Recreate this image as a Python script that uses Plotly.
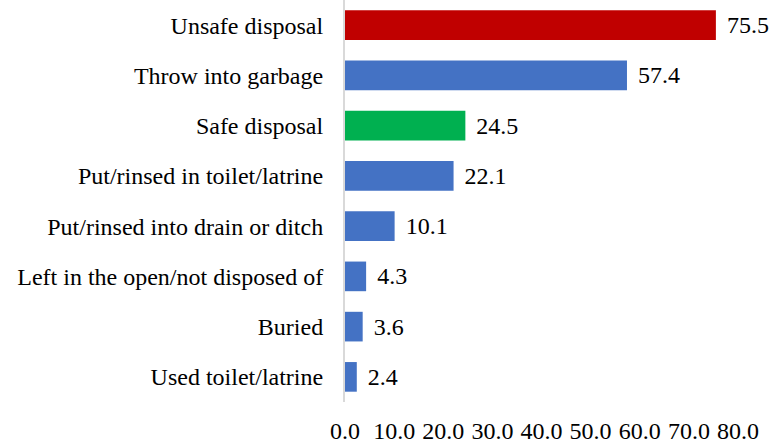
import plotly.graph_objects as go

categories = ["Unsafe disposal", "Throw into garbage", "Safe disposal",
              "Put/rinsed in toilet/latrine", "Put/rinsed into drain or ditch",
              "Left in the open/not disposed of", "Buried", "Used toilet/latrine"]
values = [75.5, 57.4, 24.5, 22.1, 10.1, 4.3, 3.6, 2.4]
colors = ["#C00000", "#4472C4", "#00B050", "#4472C4", "#4472C4", "#4472C4", "#4472C4", "#4472C4"]
x_ticks = [0, 10, 20, 30, 40, 50, 60, 70, 80]

font_family = "Liberation Serif"

fig = go.Figure(go.Bar(
    x=values, y=categories, orientation="h",
    marker=dict(color=colors, line=dict(width=0)),
    text=values, texttemplate=" \u200a%{x:.1f}", textposition="outside",
    textfont=dict(family=font_family, size=24, color="#000000"),
    cliponaxis=False,
))

fig.update_layout(
    width=774, height=443,
    margin=dict(l=345, r=36, t=0, b=41, autoexpand=False),
    paper_bgcolor="white", plot_bgcolor="white",
    bargap=0.41,
    showlegend=False,
    font=dict(family=font_family, size=24, color="#000000"),
    xaxis=dict(range=[0, 80], tickvals=x_ticks, tickformat=".1f",
               showgrid=False, zeroline=False, showline=False, ticks="",
               ticklabelstandoff=12, automargin=False),
    yaxis=dict(autorange="reversed", showgrid=False, zeroline=False,
               showline=True, linecolor="#D9D9D9", linewidth=2, ticks="",
               ticklabelstandoff=15, automargin=False),
)

fig.write_html("out.html", config={"displayModeBar": False},
               post_script="document.body.style.margin='0px';")
